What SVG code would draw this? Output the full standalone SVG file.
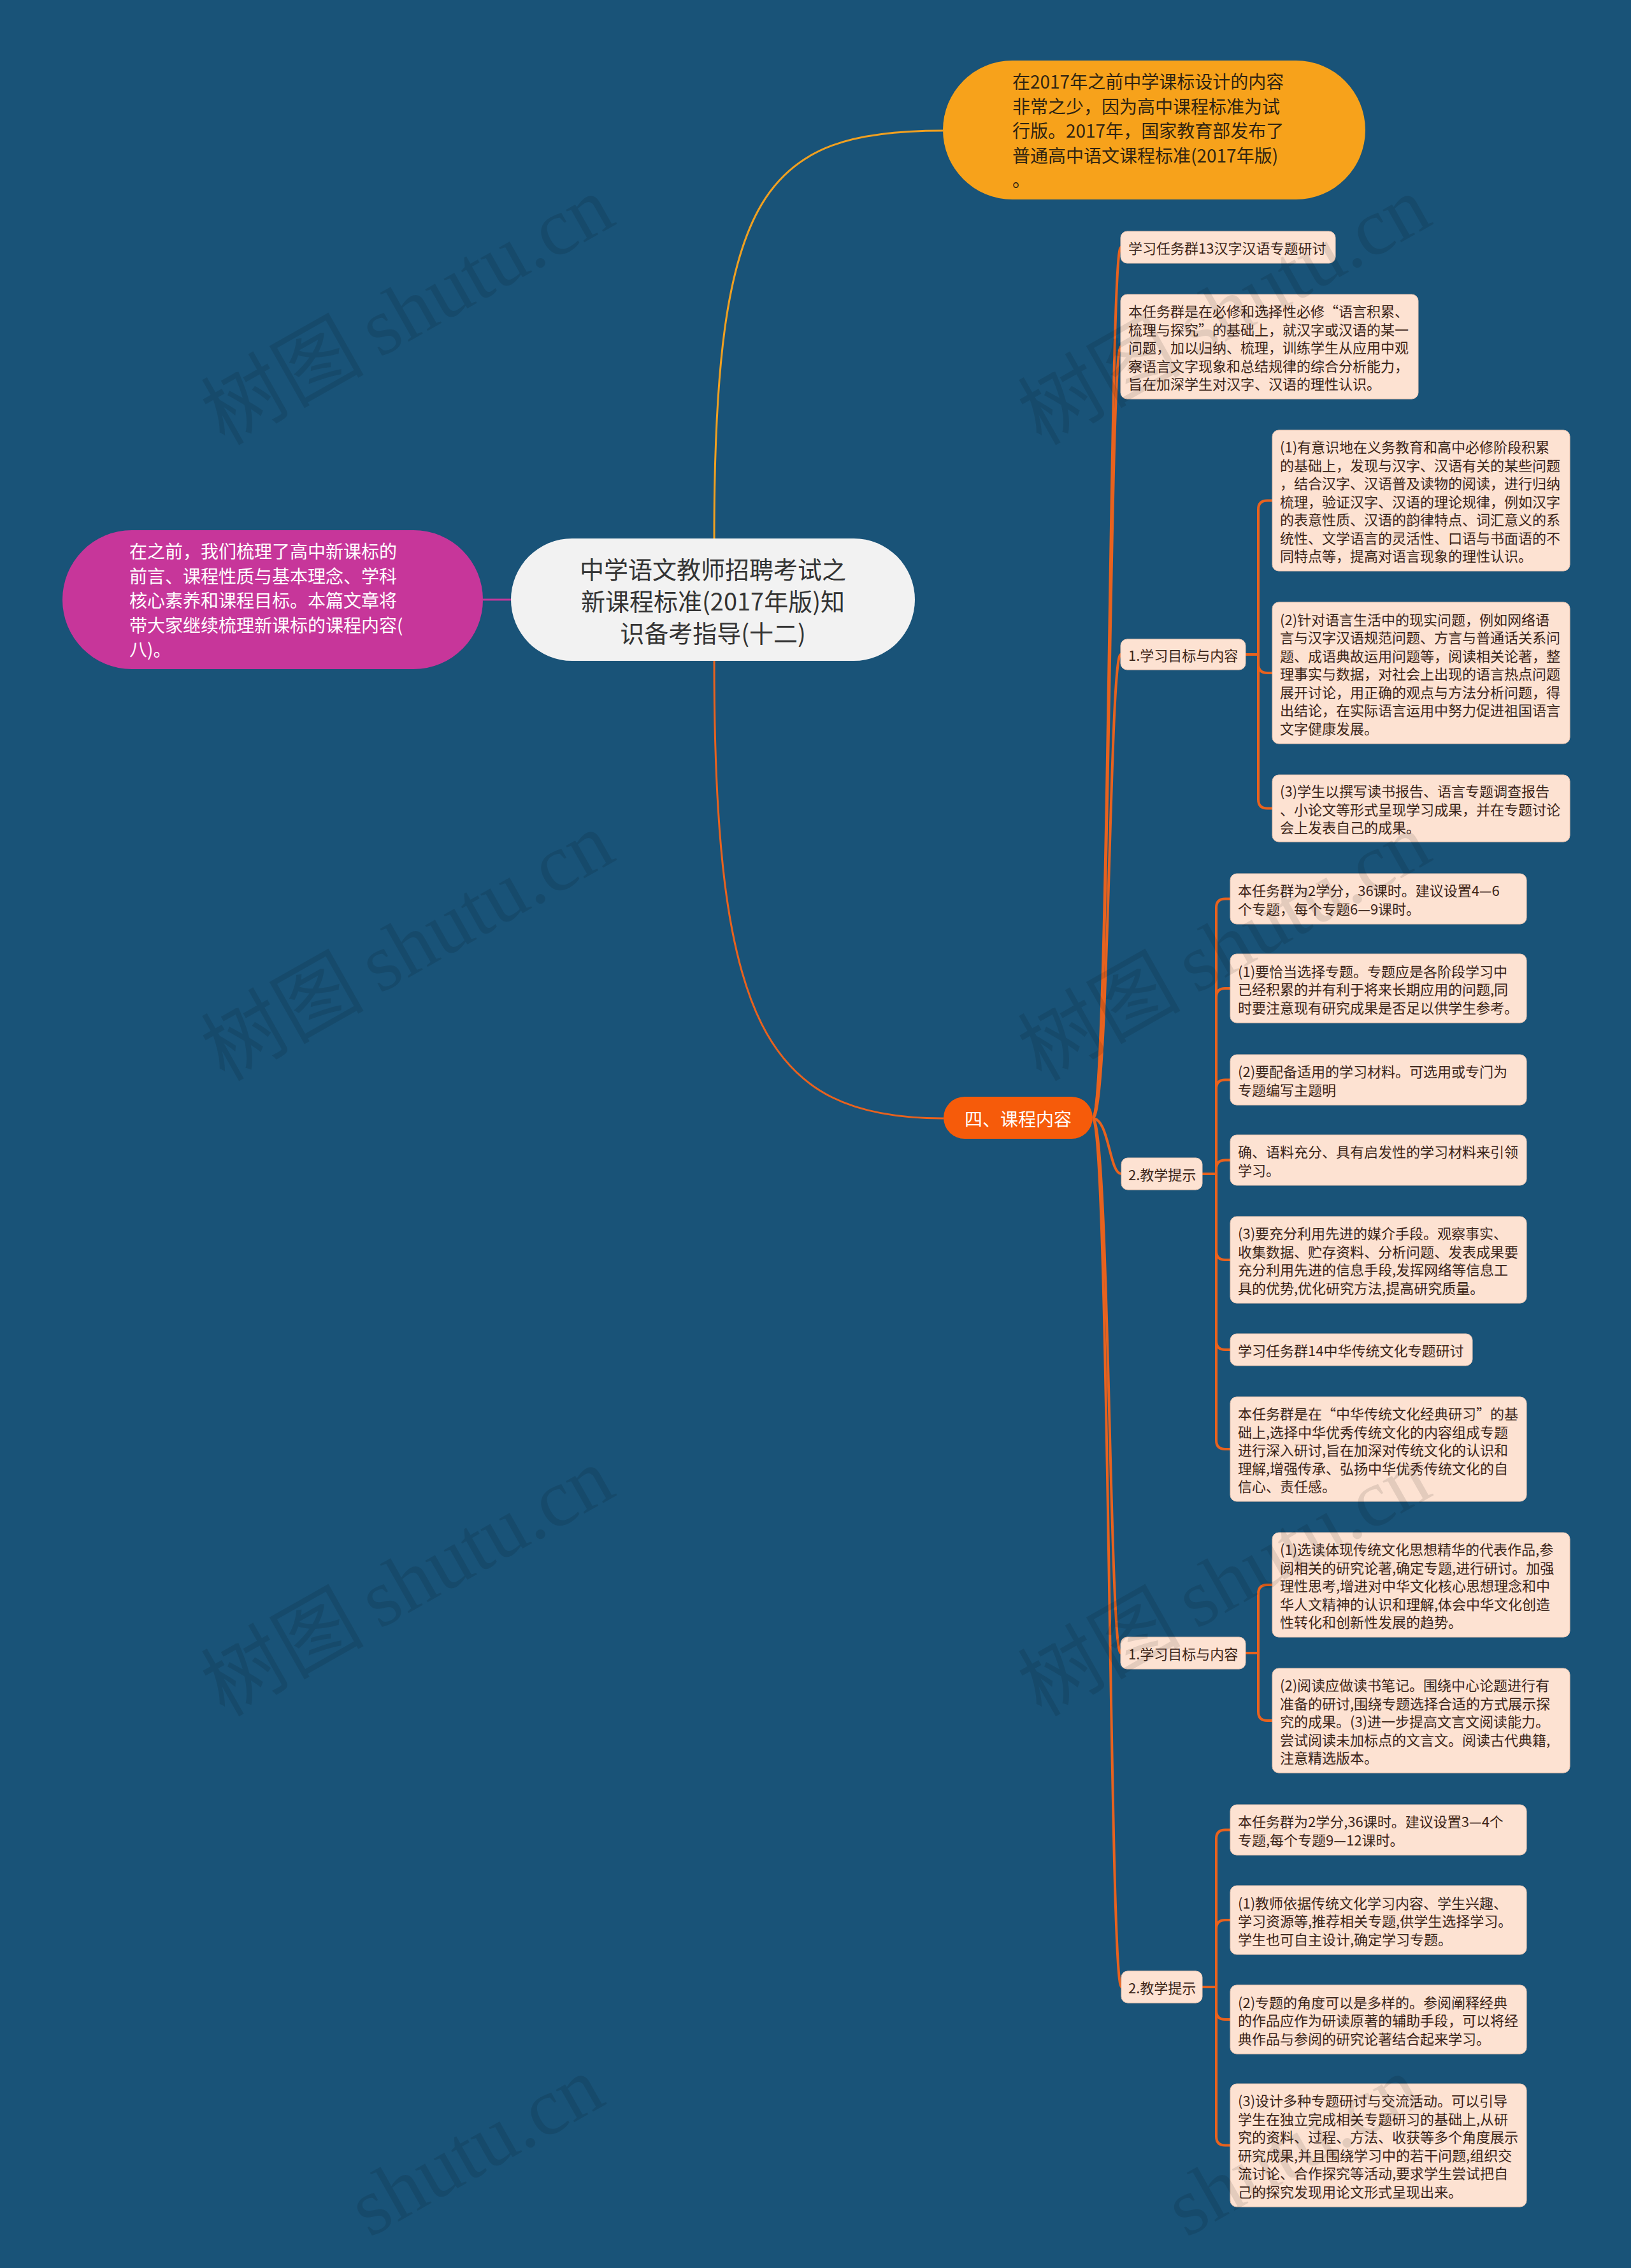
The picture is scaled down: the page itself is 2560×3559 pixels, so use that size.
<svg xmlns="http://www.w3.org/2000/svg" width="2560" height="3559" viewBox="0 0 2560 3559">
<style>
.bg{fill:#195378}
.wm{font-family:"Liberation Serif","Noto Sans CJK SC",serif;font-size:128px;fill:#000000;fill-opacity:0.1}
.leaf{fill:#fde2d2;stroke:#eac6b2;stroke-width:1}
.lt{font-family:"Noto Sans CJK SC","Noto Sans",sans-serif;font-size:22px;fill:#3b2418;dominant-baseline:central}
.big{font-family:"Noto Sans CJK SC","Noto Sans",sans-serif;font-size:28px;dominant-baseline:central}
.title{font-family:"Noto Sans CJK SC","Noto Sans",sans-serif;font-size:38px;fill:#333333;dominant-baseline:central;text-anchor:middle}
.c{fill:none;stroke:#e8621e;stroke-width:4}
</style>
<rect class="bg" x="0" y="0" width="2560" height="3559"/>
<g id="connectors">
<path d="M1121,845 C1121,300 1200,205 1480,205" fill="none" stroke="#f0a020" stroke-width="3"/>
<path d="M1121,1037 C1121,1600 1200,1755 1481,1755" fill="none" stroke="#e8621e" stroke-width="3"/>
<path d="M802,941 H758" fill="none" stroke="#c2389a" stroke-width="3"/>
<path class="c" d="M1715,1755 C1741,1755 1741,388 1759,388"/>
<path class="c" d="M1715,1755 C1741,1755 1741,544 1759,544"/>
<path class="c" d="M1715,1755 C1741,1755 1741,1027 1759,1027"/>
<path class="c" d="M1715,1755 C1741,1755 1741,1842 1760,1842"/>
<path class="c" d="M1715,1755 C1741,1755 1741,2594 1759,2594"/>
<path class="c" d="M1715,1755 C1741,1755 1741,3118 1760,3118"/>
<path class="c" d="M1955,1027 H1975 V799.5 Q1975,785.5 1989,785.5 H1997"/>
<path class="c" d="M1955,1027 H1975 V1042 Q1975,1056 1989,1056 H1997"/>
<path class="c" d="M1955,1027 H1975 V1254.5 Q1975,1268.5 1989,1268.5 H1997"/>
<path class="c" d="M1887,1842 H1909 V1424.5 Q1909,1410.5 1923,1410.5 H1931"/>
<path class="c" d="M1887,1842 H1909 V1565 Q1909,1551 1923,1551 H1931"/>
<path class="c" d="M1887,1842 H1909 V1708.5 Q1909,1694.5 1923,1694.5 H1931"/>
<path class="c" d="M1887,1842 H1909 V1834.5 Q1909,1820.5 1923,1820.5 H1931"/>
<path class="c" d="M1887,1842 H1909 V1963 Q1909,1977 1923,1977 H1931"/>
<path class="c" d="M1887,1842 H1909 V2104 Q1909,2118 1923,2118 H1931"/>
<path class="c" d="M1887,1842 H1909 V2260 Q1909,2274 1923,2274 H1931"/>
<path class="c" d="M1955,2594 H1975 V2501 Q1975,2487 1989,2487 H1997"/>
<path class="c" d="M1955,2594 H1975 V2686 Q1975,2700 1989,2700 H1997"/>
<path class="c" d="M1887,3118 H1909 V2885.5 Q1909,2871.5 1923,2871.5 H1931"/>
<path class="c" d="M1887,3118 H1909 V3027 Q1909,3013 1923,3013 H1931"/>
<path class="c" d="M1887,3118 H1909 V3155 Q1909,3169 1923,3169 H1931"/>
<path class="c" d="M1887,3118 H1909 V3352.5 Q1909,3366.5 1923,3366.5 H1931"/>
</g>
<g id="center">
<rect x="802" y="845" width="634" height="192" rx="96" fill="#f2f2f2"/>
<text class="title"><tspan x="1119" y="891">中学语文教师招聘考试之</tspan><tspan x="1119" y="941">新课程标准(2017年版)知</tspan><tspan x="1119" y="991">识备考指导(十二)</tspan></text>
</g>
<g id="intro">
<rect x="98" y="832" width="660" height="218" rx="109" fill="#c7369a"/>
<text class="big" fill="#ffffff"><tspan x="203" y="864">在之前，我们梳理了高中新课标的</tspan><tspan x="203" y="902.5">前言、课程性质与基本理念、学科</tspan><tspan x="203" y="941">核心素养和课程目标。本篇文章将</tspan><tspan x="203" y="979.5">带大家继续梳理新课标的课程内容(</tspan><tspan x="203" y="1018">八)。</tspan></text>
</g>
<g id="background-note">
<rect x="1480" y="95" width="663" height="218" rx="109" fill="#f7a21b"/>
<text class="big" fill="#2f2412"><tspan x="1589" y="127">在2017年之前中学课标设计的内容</tspan><tspan x="1589" y="165.5">非常之少，因为高中课程标准为试</tspan><tspan x="1589" y="204">行版。2017年，国家教育部发布了</tspan><tspan x="1589" y="242.5">普通高中语文课程标准(2017年版)</tspan><tspan x="1589" y="281">。</tspan></text>
</g>
<g id="course-content">
<rect x="1481" y="1721" width="234" height="66" rx="33" fill="#f65b0a"/>
<text class="big" fill="#ffffff" x="1598" y="1755" text-anchor="middle">四、课程内容</text>
</g>
<g id="n-a">
<rect class="leaf" x="1759" y="363" width="337" height="50" rx="10"/>
<text class="lt" x="1771" y="388">学习任务群13汉字汉语专题研讨</text>
</g>
<g id="n-b">
<rect class="leaf" x="1759" y="462" width="467" height="164" rx="10"/>
<text class="lt"><tspan x="1771" y="487">本任务群是在必修和选择性必修“语言积累、</tspan><tspan x="1771" y="515.5">梳理与探究”的基础上，就汉字或汉语的某一</tspan><tspan x="1771" y="544">问题，加以归纳、梳理，训练学生从应用中观</tspan><tspan x="1771" y="572.5">察语言文字现象和总结规律的综合分析能力，</tspan><tspan x="1771" y="601">旨在加深学生对汉字、汉语的理性认识。</tspan></text>
</g>
<g id="n-c">
<rect class="leaf" x="1759" y="1003" width="196" height="48" rx="10"/>
<text class="lt" x="1771" y="1027">1.学习目标与内容</text>
</g>
<g id="n-c1">
<rect class="leaf" x="1997" y="675" width="467" height="221" rx="10"/>
<text class="lt"><tspan x="2009" y="700">(1)有意识地在义务教育和高中必修阶段积累</tspan><tspan x="2009" y="728.5">的基础上，发现与汉字、汉语有关的某些问题</tspan><tspan x="2009" y="757">，结合汉字、汉语普及读物的阅读，进行归纳</tspan><tspan x="2009" y="785.5">梳理，验证汉字、汉语的理论规律，例如汉字</tspan><tspan x="2009" y="814">的表意性质、汉语的韵律特点、词汇意义的系</tspan><tspan x="2009" y="842.5">统性、文学语言的灵活性、口语与书面语的不</tspan><tspan x="2009" y="871">同特点等，提高对语言现象的理性认识。</tspan></text>
</g>
<g id="n-c2">
<rect class="leaf" x="1997" y="945" width="467" height="222" rx="10"/>
<text class="lt"><tspan x="2009" y="970.5">(2)针对语言生活中的现实问题，例如网络语</tspan><tspan x="2009" y="999">言与汉字汉语规范问题、方言与普通话关系问</tspan><tspan x="2009" y="1027.5">题、成语典故运用问题等，阅读相关论著，整</tspan><tspan x="2009" y="1056">理事实与数据，对社会上出现的语言热点问题</tspan><tspan x="2009" y="1084.5">展开讨论，用正确的观点与方法分析问题，得</tspan><tspan x="2009" y="1113">出结论，在实际语言运用中努力促进祖国语言</tspan><tspan x="2009" y="1141.5">文字健康发展。</tspan></text>
</g>
<g id="n-c3">
<rect class="leaf" x="1997" y="1216" width="467" height="105" rx="10"/>
<text class="lt"><tspan x="2009" y="1240">(3)学生以撰写读书报告、语言专题调查报告</tspan><tspan x="2009" y="1268.5">、小论文等形式呈现学习成果，并在专题讨论</tspan><tspan x="2009" y="1297">会上发表自己的成果。</tspan></text>
</g>
<g id="n-d">
<rect class="leaf" x="1760" y="1817" width="127" height="50" rx="10"/>
<text class="lt" x="1771" y="1842">2.教学提示</text>
</g>
<g id="n-d1">
<rect class="leaf" x="1931" y="1371" width="465" height="79" rx="10"/>
<text class="lt"><tspan x="1943" y="1396">本任务群为2学分，36课时。建议设置4—6</tspan><tspan x="1943" y="1425">个专题，每个专题6—9课时。</tspan></text>
</g>
<g id="n-d2">
<rect class="leaf" x="1931" y="1497" width="465" height="108" rx="10"/>
<text class="lt"><tspan x="1943" y="1522.5">(1)要恰当选择专题。专题应是各阶段学习中</tspan><tspan x="1943" y="1551">已经积累的并有利于将来长期应用的问题,同</tspan><tspan x="1943" y="1579.5">时要注意现有研究成果是否足以供学生参考。</tspan></text>
</g>
<g id="n-d3">
<rect class="leaf" x="1931" y="1655" width="465" height="79" rx="10"/>
<text class="lt"><tspan x="1943" y="1680">(2)要配备适用的学习材料。可选用或专门为</tspan><tspan x="1943" y="1709">专题编写主题明</tspan></text>
</g>
<g id="n-d4">
<rect class="leaf" x="1931" y="1781" width="465" height="79" rx="10"/>
<text class="lt"><tspan x="1943" y="1806">确、语料充分、具有启发性的学习材料来引领</tspan><tspan x="1943" y="1835">学习。</tspan></text>
</g>
<g id="n-d5">
<rect class="leaf" x="1931" y="1909" width="465" height="136" rx="10"/>
<text class="lt"><tspan x="1943" y="1934">(3)要充分利用先进的媒介手段。观察事实、</tspan><tspan x="1943" y="1963">收集数据、贮存资料、分析问题、发表成果要</tspan><tspan x="1943" y="1991">充分利用先进的信息手段,发挥网络等信息工</tspan><tspan x="1943" y="2020">具的优势,优化研究方法,提高研究质量。</tspan></text>
</g>
<g id="n-d6">
<rect class="leaf" x="1931" y="2093" width="380" height="50" rx="10"/>
<text class="lt" x="1943" y="2118">学习任务群14中华传统文化专题研讨</text>
</g>
<g id="n-d7">
<rect class="leaf" x="1931" y="2192" width="465" height="164" rx="10"/>
<text class="lt"><tspan x="1943" y="2217">本任务群是在“中华传统文化经典研习”的基</tspan><tspan x="1943" y="2245.5">础上,选择中华优秀传统文化的内容组成专题</tspan><tspan x="1943" y="2274">进行深入研讨,旨在加深对传统文化的认识和</tspan><tspan x="1943" y="2302.5">理解,增强传承、弘扬中华优秀传统文化的自</tspan><tspan x="1943" y="2331">信心、责任感。</tspan></text>
</g>
<g id="n-e">
<rect class="leaf" x="1759" y="2569" width="196" height="50" rx="10"/>
<text class="lt" x="1771" y="2594">1.学习目标与内容</text>
</g>
<g id="n-e1">
<rect class="leaf" x="1997" y="2405" width="467" height="164" rx="10"/>
<text class="lt"><tspan x="2009" y="2430">(1)选读体现传统文化思想精华的代表作品,参</tspan><tspan x="2009" y="2458.5">阅相关的研究论著,确定专题,进行研讨。加强</tspan><tspan x="2009" y="2487">理性思考,增进对中华文化核心思想理念和中</tspan><tspan x="2009" y="2515.5">华人文精神的认识和理解,体会中华文化创造</tspan><tspan x="2009" y="2544">性转化和创新性发展的趋势。</tspan></text>
</g>
<g id="n-e2">
<rect class="leaf" x="1997" y="2618" width="467" height="164" rx="10"/>
<text class="lt"><tspan x="2009" y="2643">(2)阅读应做读书笔记。围绕中心论题进行有</tspan><tspan x="2009" y="2671.5">准备的研讨,围绕专题选择合适的方式展示探</tspan><tspan x="2009" y="2700">究的成果。(3)进一步提高文言文阅读能力。</tspan><tspan x="2009" y="2728.5">尝试阅读未加标点的文言文。阅读古代典籍,</tspan><tspan x="2009" y="2757">注意精选版本。</tspan></text>
</g>
<g id="n-f">
<rect class="leaf" x="1760" y="3093" width="127" height="50" rx="10"/>
<text class="lt" x="1771" y="3118">2.教学提示</text>
</g>
<g id="n-f1">
<rect class="leaf" x="1931" y="2832" width="465" height="79" rx="10"/>
<text class="lt"><tspan x="1943" y="2857">本任务群为2学分,36课时。建议设置3—4个</tspan><tspan x="1943" y="2886">专题,每个专题9—12课时。</tspan></text>
</g>
<g id="n-f2">
<rect class="leaf" x="1931" y="2959" width="465" height="108" rx="10"/>
<text class="lt"><tspan x="1943" y="2984.5">(1)教师依据传统文化学习内容、学生兴趣、</tspan><tspan x="1943" y="3013">学习资源等,推荐相关专题,供学生选择学习。</tspan><tspan x="1943" y="3041.5">学生也可自主设计,确定学习专题。</tspan></text>
</g>
<g id="n-f3">
<rect class="leaf" x="1931" y="3115" width="465" height="108" rx="10"/>
<text class="lt"><tspan x="1943" y="3140.5">(2)专题的角度可以是多样的。参阅阐释经典</tspan><tspan x="1943" y="3169">的作品应作为研读原著的辅助手段，可以将经</tspan><tspan x="1943" y="3197.5">典作品与参阅的研究论著结合起来学习。</tspan></text>
</g>
<g id="n-f4">
<rect class="leaf" x="1931" y="3270" width="465" height="193" rx="10"/>
<text class="lt"><tspan x="1943" y="3295">(3)设计多种专题研讨与交流活动。可以引导</tspan><tspan x="1943" y="3324">学生在独立完成相关专题研习的基础上,从研</tspan><tspan x="1943" y="3352">究的资料、过程、方法、收获等多个角度展示</tspan><tspan x="1943" y="3381">研究成果,并且围绕学习中的若干问题,组织交</tspan><tspan x="1943" y="3409">流讨论、合作探究等活动,要求学生尝试把自</tspan><tspan x="1943" y="3438">己的探究发现用论文形式呈现出来。</tspan></text>
</g>
<g id="watermarks">
<text class="wm" x="352" y="700" transform="rotate(-29.5 352 700)">树图<tspan dx="-8"> shutu.cn</tspan></text>
<text class="wm" x="352" y="1698" transform="rotate(-29.5 352 1698)">树图<tspan dx="-8"> shutu.cn</tspan></text>
<text class="wm" x="352" y="2695" transform="rotate(-29.5 352 2695)">树图<tspan dx="-8"> shutu.cn</tspan></text>
<text class="wm" x="580" y="3512" transform="rotate(-29.5 580 3512)">shutu.cn</text>
<text class="wm" x="1634" y="700" transform="rotate(-29.5 1634 700)">树图<tspan dx="-8"> shutu.cn</tspan></text>
<text class="wm" x="1634" y="1698" transform="rotate(-29.5 1634 1698)">树图<tspan dx="-8"> shutu.cn</tspan></text>
<text class="wm" x="1634" y="2695" transform="rotate(-29.5 1634 2695)">树图<tspan dx="-8"> shutu.cn</tspan></text>
<text class="wm" x="1862" y="3512" transform="rotate(-29.5 1862 3512)">shutu.cn</text>
</g>
</svg>
